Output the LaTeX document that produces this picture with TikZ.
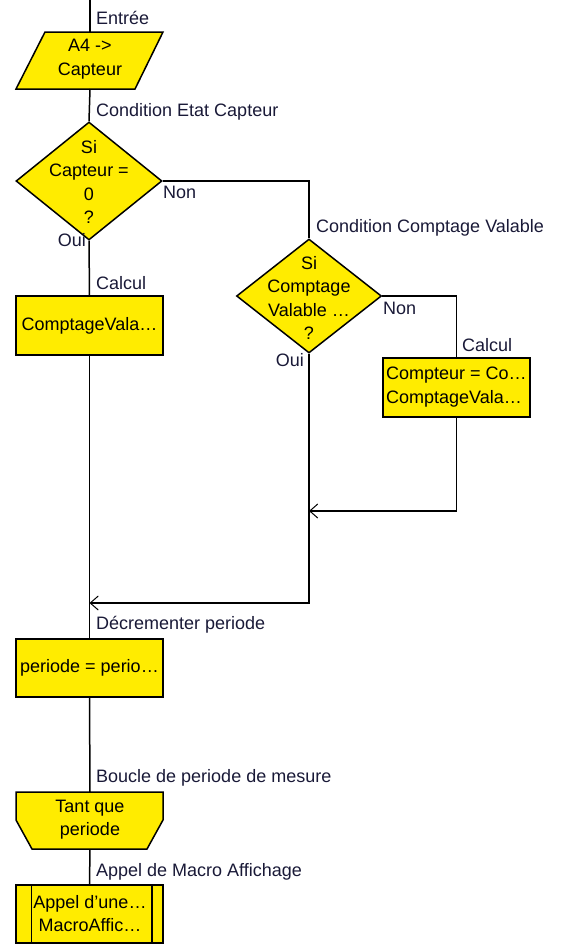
\documentclass[tikz,border=0pt]{standalone}
\usepackage{fontspec}
\setmainfont{Liberation Sans}
\usetikzlibrary{arrows.meta,shapes.geometric}
\definecolor{fy}{RGB}{255,236,0}
\definecolor{lbl}{RGB}{25,25,55}
\begin{document}
\begin{tikzpicture}[x=1pt,y=-1pt,
  shapebox/.style={draw=black,line width=1.5pt,fill=fy},
  txt/.style={font=\fontsize{18}{23.5}\selectfont,align=center,inner sep=0pt,text=black},
  lab/.style={font=\fontsize{18}{21}\selectfont,anchor=west,inner sep=0pt,text=lbl},
  conn/.style={line width=1.5pt,draw=black},
  tipr/.style={-{Straight Barb[length=8pt,width=14pt,line width=1pt]}}]
\useasboundingbox (0,0) rectangle (560,945);

% entry
\coordinate (entry) at (90,0);
\coordinate (pTop) at (90,32);
\coordinate (pBot) at (90,89);
\draw[shapebox] (16,89) -- (45,32) -- (163,32) -- (135,89) -- cycle;
\node[txt] (pT) at (90,59) {A4 ->\\Capteur};

% diamond 1
\node[diamond,shapebox,minimum width=146pt,minimum height=118pt,inner sep=0pt] (d1) at (89,181) {};
\node[txt] (d1t) at (89,182) {Si\\Capteur =\\0\\?};

% calcul 1
\node[rectangle,shapebox,minimum width=147pt,minimum height=59pt,inner sep=0pt,txt] (c1) at (89.5,325.5) {ComptageVala…};

% diamond 2
\node[diamond,shapebox,minimum width=145pt,minimum height=114pt,inner sep=0pt] (d2) at (309,296) {};
\node[txt] (d2t) at (309,298) {Si\\Comptage\\Valable …\\?};

% calcul 2
\node[rectangle,shapebox,minimum width=147pt,minimum height=59pt,inner sep=0pt] (c2) at (456.5,387.5) {};
\node[txt,align=left,anchor=west] (c2t) at (386,387) {Compteur = Co…\\ComptageVala…};

% decrement
\node[rectangle,shapebox,minimum width=147pt,minimum height=58pt,inner sep=0pt,txt] (c3) at (89.5,668) {periode = perio…};

% loop
\coordinate (lTop) at (90,792);
\coordinate (lBot) at (90,849);
\draw[shapebox] (16,792) -- (163,792) -- (163,820) -- (147,849) -- (32,849) -- (16,820) -- cycle;
\node[txt] (lT) at (90,819.5) {Tant que\\periode};

% macro call
\node[rectangle,shapebox,minimum width=147pt,minimum height=58pt,inner sep=0pt] (m5) at (89.5,914) {};
\draw[line width=1.5pt] ([xshift=16pt]m5.north west) -- ([xshift=16pt]m5.south west);
\draw[line width=1.5pt] ([xshift=-12pt]m5.north east) -- ([xshift=-12pt]m5.south east);
\node[txt] (m5t) at (90,913.5) {Appel d'une…\\MacroAffic…};

% junctions
\coordinate (j2) at (d2.south |- 0,511);
\coordinate (j1) at (c1.south |- 0,603);

% connectors
\draw[conn] (entry) -- (pTop);
\draw[conn] (pBot) -- (d1.north);
\draw[conn] (d1.south) -- (c1.north);
\draw[conn] (d1.east) -| (d2.north);
\draw[conn] (d2.east) -| (c2.north);
\draw[conn,tipr] (c2.south) |- (j2);
\draw[conn,tipr] (d2.south) |- (j1);
\draw[conn] (c1.south) -- (c3.north);
\draw[conn] (c3.south) -- (lTop);
\draw[conn] (lBot) -- (m5.north);

% labels
\node[lab] (l1) at (96,18) {Entrée};
\node[lab] (l2) at (96,112) {Condition Etat Capteur};
\node[lab] (l3) at (163,192) {Non};
\node[lab,anchor=east] (l4) at (86,240) {Oui};
\node[lab] (l5) at (96,283) {Calcul};
\node[lab] (l6) at (316,228) {Condition Comptage Valable};
\node[lab] (l7) at (383,308) {Non};
\node[lab,anchor=east] (l8) at (304,360) {Oui};
\node[lab] (l9) at (462,345) {Calcul};
\node[lab] (l10) at (96,625) {Décrementer periode};
\node[lab] (l11) at (96,778) {Boucle de periode de mesure};
\node[lab] (l12) at (96,872) {Appel de Macro Affichage};
\end{tikzpicture}
\end{document}
